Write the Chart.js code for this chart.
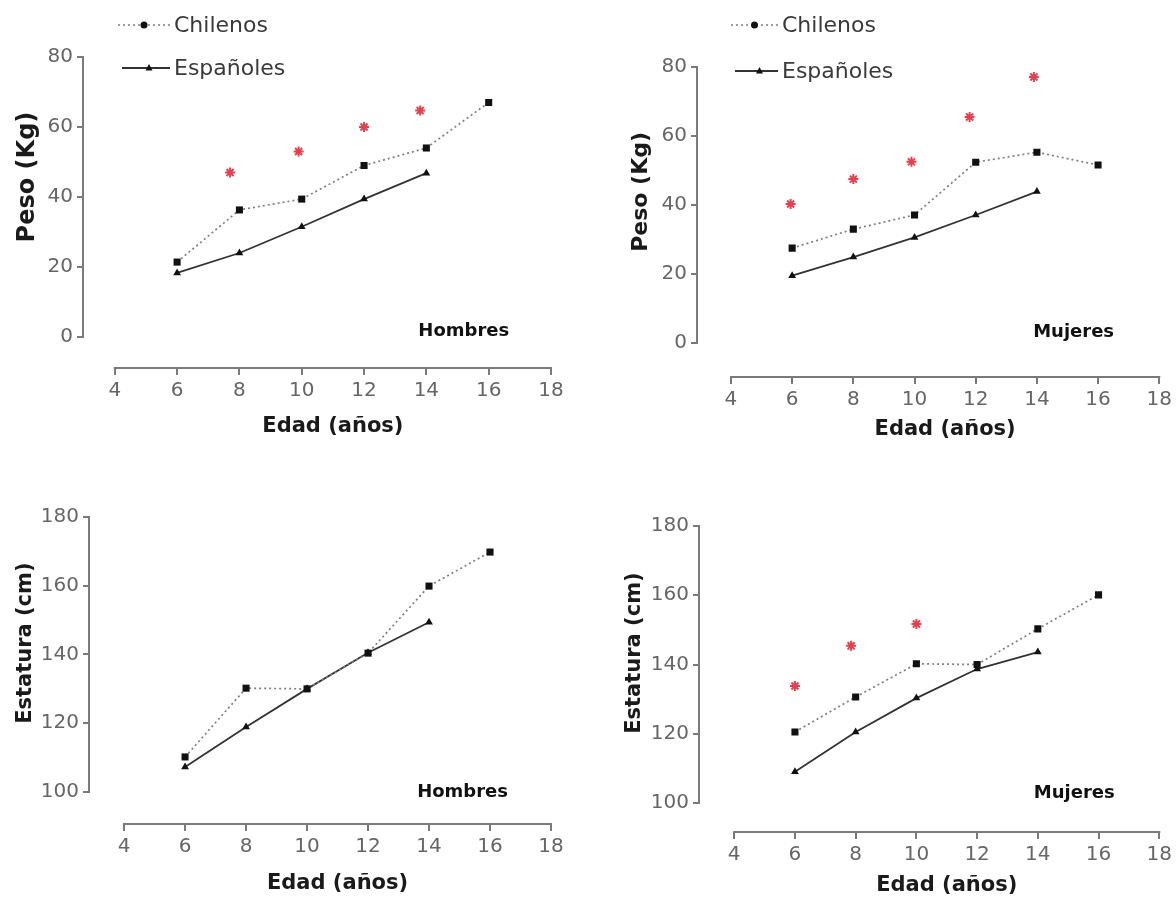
<!DOCTYPE html>
<html lang="es">
<head>
<meta charset="utf-8">
<title>Peso y estatura</title>
<script src="https://cdn.jsdelivr.net/npm/chart.js@4.4.1/dist/chart.umd.min.js"></script>
<style>
  body { margin: 0; background: #fff; }
  #wrap { position: relative; width: 1176px; height: 905px; overflow: hidden; }
  .panel { position: absolute; }
</style>
</head>
<body>
<div id="wrap">
  <div class="panel" style="left:0;top:0;width:588px;height:452px"><canvas id="pesoHombres"></canvas></div>
  <div class="panel" style="left:588px;top:0;width:588px;height:452px"><canvas id="pesoMujeres"></canvas></div>
  <div class="panel" style="left:0;top:452px;width:588px;height:453px"><canvas id="estaturaHombres"></canvas></div>
  <div class="panel" style="left:588px;top:452px;width:588px;height:453px"><canvas id="estaturaMujeres"></canvas></div>
</div>
<script>
// datos
const edades = [6, 8, 10, 12, 14, 16];
const edadTicks = [4, 6, 8, 10, 12, 14, 16, 18];
const pesoTicks = [0, 20, 40, 60, 80];
const estaturaTicks = [100, 120, 140, 160, 180];

const pesoHombresChilenos = [21.4, 36.3, 39.4, 49, 54, 67];
const pesoHombresEspanoles = [18.3, 24, 31.5, 39.4, 46.8];
const pesoHombresAstX = [7.7, 9.9, 12, 13.8];
const pesoHombresAstY = [47, 53, 60, 64.7];

const pesoMujeresChilenos = [27.5, 33, 37.1, 52.4, 55.3, 51.6];
const pesoMujeresEspanoles = [19.5, 24.9, 30.6, 37.1, 43.9];
const pesoMujeresAstX = [5.95, 8, 9.9, 11.8, 13.9];
const pesoMujeresAstY = [40.3, 47.5, 52.5, 65.5, 77.1];

const estaturaHombresChilenos = [110.2, 130.2, 130, 140.4, 159.9, 169.8];
const estaturaHombresEspanoles = [107.3, 118.9, 130, 140.5, 149.4];
const estaturaHombresAstX = [];
const estaturaHombresAstY = [];

const estaturaMujeresChilenos = [120.5, 130.6, 140.2, 140, 150.3, 160.1];
const estaturaMujeresEspanoles = [109, 120.5, 130.3, 138.7, 143.6];
const estaturaMujeresAstX = [6, 7.85, 10];
const estaturaMujeresAstY = [133.8, 145.4, 151.7];

const axisColor = "#7a7a7a";
const tickColor = "#666";
const textColor = "#1a1a1a";
Chart.defaults.font.family = "'DejaVu Sans', sans-serif";

// ejes separados (estilo Prism), títulos, leyenda y rótulo del panel
const decor = {
  id: "decor",
  beforeDatasetsDraw(chart, args, o) {
    const { ctx, chartArea: a, scales: { x, y } } = chart;
    ctx.save();
    ctx.strokeStyle = axisColor;
    ctx.lineWidth = 2;
    ctx.beginPath();
    ctx.moveTo(a.left, y.getPixelForValue(o.yTicks[0]) + 1);
    ctx.lineTo(a.left, y.getPixelForValue(o.yTicks[o.yTicks.length - 1]) - 1);
    ctx.moveTo(x.getPixelForValue(edadTicks[0]) - 1, a.bottom);
    ctx.lineTo(x.getPixelForValue(edadTicks[edadTicks.length - 1]) + 1, a.bottom);
    ctx.stroke();
    ctx.restore();
  },
  afterDraw(chart, args, o) {
    const { ctx, chartArea: a, scales: { x, y } } = chart;
    ctx.save();
    ctx.fillStyle = textColor;
    ctx.textAlign = "center";
    ctx.textBaseline = "middle";

    // título eje y
    ctx.save();
    ctx.font = `bold ${o.yTitleSize}px 'DejaVu Sans'`;
    ctx.translate(o.yTitleX, y.getPixelForValue(o.yTitleAt));
    ctx.rotate(-Math.PI / 2);
    ctx.fillText(o.yTitle, 0, 0);
    ctx.restore();

    // título eje x
    ctx.font = "bold 21px 'DejaVu Sans'";
    const xc = (x.getPixelForValue(edadTicks[0]) + x.getPixelForValue(edadTicks[edadTicks.length - 1])) / 2;
    ctx.fillText("Edad (años)", xc, a.bottom + o.xTitleOffset);

    // rótulo Hombres / Mujeres
    ctx.font = "bold 18px 'DejaVu Sans'";
    ctx.fillStyle = "#111";
    ctx.fillText(o.tag, x.getPixelForValue(o.tagAt[0]), y.getPixelForValue(o.tagAt[1]));

    // leyenda (solo en los paneles de arriba)
    const lg = o.legend;
    if (lg) {
      chart.data.datasets.slice(0, 2).forEach((ds, i) => {
        const ly = lg.y[i];
        ctx.strokeStyle = ds.borderColor;
        ctx.lineWidth = ds.borderWidth;
        ctx.setLineDash(ds.borderDash || []);
        ctx.beginPath();
        ctx.moveTo(lg.x0 + (i ? 4 : 0), ly);
        ctx.lineTo(lg.x1, ly);
        ctx.stroke();
        ctx.setLineDash([]);
        const mx = (lg.x0 + lg.x1) / 2 + (i ? 5 : 0);
        ctx.fillStyle = "#111";
        ctx.beginPath();
        if (ds.pointStyle === "triangle") {
          ctx.moveTo(mx, ly - 4);
          ctx.lineTo(mx + 3.5, ly + 2.5);
          ctx.lineTo(mx - 3.5, ly + 2.5);
        } else {
          ctx.arc(mx, ly, 3.5, 0, Math.PI * 2);
        }
        ctx.fill();
        ctx.fillStyle = "#3a3a3a";
        ctx.font = "22px 'DejaVu Sans'";
        ctx.textAlign = "left";
        ctx.fillText(ds.label, lg.x1 + 4, ly + 1);
      });
    }
    ctx.restore();
  },
};

function makePanel(id, chilenos, espanoles, astX, astY, yTicks, lay) {
  const ctx = document.getElementById(id);
  return new Chart(ctx, {
    type: "scatter",
    data: {
      datasets: [
        {
          label: "Chilenos",
          data: chilenos.map((v, i) => ({ x: edades[i], y: v })),
          showLine: true,
          borderColor: "#7f7f7f",
          borderWidth: 1.7,
          borderDash: [2, 3],
          pointStyle: "rect",
          pointRadius: 5,
          pointBackgroundColor: "#111",
          pointBorderColor: "#111",
          pointBorderWidth: 0,
        },
        {
          label: "Españoles",
          data: espanoles.map((v, i) => ({ x: edades[i], y: v })),
          showLine: true,
          borderColor: "#333",
          borderWidth: 1.8,
          pointStyle: "triangle",
          pointRadius: 4.5,
          pointBackgroundColor: "#111",
          pointBorderColor: "#111",
          pointBorderWidth: 0,
        },
        {
          label: "*",
          data: astX.map((v, i) => ({ x: v, y: astY[i] })),
          showLine: false,
          pointStyle: "star",
          pointRadius: 5,
          pointBorderColor: "#e5404f",
          pointBorderWidth: 2,
        },
      ],
    },
    options: {
      responsive: true,
      maintainAspectRatio: false,
      animation: false,
      events: [],
      layout: { padding: { top: lay.top, right: lay.right, left: 0, bottom: 0 } },
      plugins: {
        legend: { display: false },
        tooltip: { enabled: false },
        decor: lay.decor,
      },
      scales: {
        x: {
          type: "linear",
          min: lay.xMin,
          max: 18,
          afterBuildTicks: (s) => { s.ticks = edadTicks.map((v) => ({ value: v })); },
          afterFit: (s) => { s.height = lay.xHeight; },
          border: { display: false },
          grid: { drawOnChartArea: false, color: axisColor, lineWidth: 2, tickLength: 7 },
          ticks: { color: tickColor, font: { size: 20 }, padding: 4, maxRotation: 0, autoSkip: false },
        },
        y: {
          type: "linear",
          min: lay.yMin,
          max: yTicks[yTicks.length - 1],
          afterBuildTicks: (s) => { s.ticks = yTicks.map((v) => ({ value: v })); },
          afterFit: (s) => { s.width = lay.yWidth; },
          border: { display: false },
          grid: { drawOnChartArea: false, color: axisColor, lineWidth: 2, tickLength: 6 },
          ticks: { color: tickColor, font: { size: 20 }, padding: 4 },
        },
      },
    },
    plugins: [decor],
  });
}

makePanel("pesoHombres", pesoHombresChilenos, pesoHombresEspanoles, pesoHombresAstX, pesoHombresAstY, pesoTicks, {
  top: 57, right: 37, yWidth: 83, xHeight: 84, xMin: 2.98, yMin: -8.86,
  decor: {
    yTicks: pesoTicks, yTitle: "Peso (Kg)", yTitleSize: 24, yTitleX: 28, yTitleAt: 45.7,
    xTitleOffset: 59, tag: "Hombres", tagAt: [15.2, 1.7],
    legend: { x0: 118, x1: 170, y: [25, 68] },
  },
});

makePanel("pesoMujeres", pesoMujeresChilenos, pesoMujeresEspanoles, pesoMujeresAstX, pesoMujeresAstY, pesoTicks, {
  top: 67, right: 15, yWidth: 109, xHeight: 75, xMin: 2.89, yMin: -9.86,
  decor: {
    yTicks: pesoTicks, yTitle: "Peso (Kg)", yTitleSize: 22, yTitleX: 53, yTitleAt: 43.8,
    xTitleOffset: 53, tag: "Mujeres", tagAt: [15.2, 3.2],
    legend: { x0: 143, x1: 190, y: [25, 71] },
  },
});

makePanel("estaturaHombres", estaturaHombresChilenos, estaturaHombresEspanoles, estaturaHombresAstX, estaturaHombresAstY, estaturaTicks, {
  top: 65, right: 37, yWidth: 89, xHeight: 81, xMin: 2.85, yMin: 90.69,
  decor: {
    yTicks: estaturaTicks, yTitle: "Estatura (cm)", yTitleSize: 21, yTitleX: 26, yTitleAt: 143.3,
    xTitleOffset: 60, tag: "Hombres", tagAt: [15.1, 100],
    legend: null,
  },
});

makePanel("estaturaMujeres", estaturaMujeresChilenos, estaturaMujeresEspanoles, estaturaMujeresAstX, estaturaMujeresAstY, estaturaTicks, {
  top: 74, right: 11, yWidth: 111, xHeight: 73, xMin: 2.84, yMin: 91.63,
  decor: {
    yTicks: estaturaTicks, yTitle: "Estatura (cm)", yTitleSize: 21, yTitleX: 47, yTitleAt: 143.3,
    xTitleOffset: 54, tag: "Mujeres", tagAt: [15.2, 102.9],
    legend: null,
  },
});
</script>
</body>
</html>
